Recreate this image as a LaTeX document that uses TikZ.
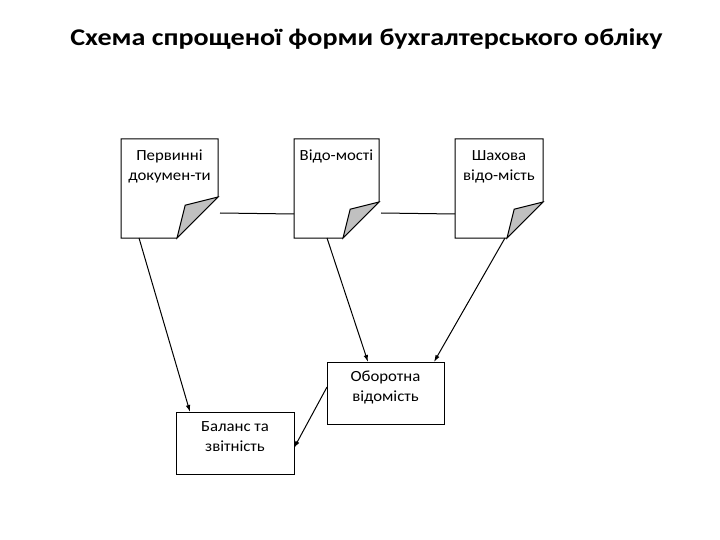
\documentclass[tikz,border=0pt]{standalone}
\usepackage{fontspec}
\setmainfont{Carlito}
\usetikzlibrary{arrows.meta}
\definecolor{ink} {HTML}{000000}
\definecolor{cFlap}{HTML}{C0C0C0}
% page with a curled lower right corner
\newcommand{\docpage}[6]{%
  \node[page,minimum width=#4] (#1) at ({#2},{#3}) {};%
  \draw[edge] (#1.north west) -- (#1.north east) -- ([yshift=#5]#1.south east)
    -- ([xshift=-#5]#1.south east) -- (#1.south west) -- cycle;%
  \draw[edge,fill=cFlap] ([yshift=#5]#1.south east)
    -- ([xshift={-0.8*#5},yshift={0.8*#5}]#1.south east)
    -- ([xshift=-#5]#1.south east) -- cycle;%
  \node[txt,anchor=north] (#1-t) at ([yshift=-11]#1.north) {#6};%
}

\begin{document}
\begin{tikzpicture}[x=1pt,y=1pt,
    edge/.style={draw=ink,line width=1pt},
    page/.style={minimum height=99pt,inner sep=0pt,outer sep=0pt},
    box/.style ={edge,minimum width=117pt,minimum height=62pt,inner sep=0pt,outer sep=0pt},
    txt/.style ={font=\fontsize{15.5}{20}\selectfont,text=ink,align=center,inner sep=0pt,xscale=1.08},
    arr/.style ={edge,-{Latex[length=7pt,width=4.5pt]}},
  ]

% fixed bounding box
\path (0,0) rectangle (720,-540);

% ---- title -----------------------------------------------------------------
\node[anchor=base,font=\fontsize{24}{28}\selectfont\bfseries,text=ink,xscale=1.17] (title)
  at (366.5,-46) {Схема спрощеної форми бухгалтерського обліку};

% ---- documents -------------------------------------------------------------
\docpage{d1}{169.5}{-188.5}{97pt}{41}{Первинні\\докумен-ти}
\docpage{d2}{336.5}{-188.5}{85pt}{36}{Відо-мості}
\docpage{d3}{499}  {-188.5}{88pt}{36}{Шахова\\відо-мість}

% ---- statements ------------------------------------------------------------
\node[box] (obr) at (385.5,-393) {};
\node[txt,anchor=north] (obr-t) at ([yshift=-9]obr.north) {Оборотна\\відомість};
\node[box,minimum width=118pt] (bal) at (235,-443) {};
\node[txt,anchor=north] (bal-t) at ([yshift=-9]bal.north) {Баланс та\\звітність};

% ---- links -----------------------------------------------------------------
\draw[edge] ([xshift=2,yshift=-24.5]d1.east) -- ([yshift=-25.5]d2.west);
\draw[edge] ([xshift=2,yshift=-24.5]d2.east) -- ([yshift=-25.5]d3.west);

\draw[arr] ([xshift=18]d1.south west) -- ([xshift=14]bal.north west);
\draw[arr] ([xshift=33]d2.south west) -- ([xshift=41]obr.north west);
\draw[arr] ([xshift=50]d3.south west) -- ([xshift=-10]obr.north east);
\draw[arr] ([yshift=6]obr.west) -- ([yshift=-5]bal.east);

\end{tikzpicture}
\end{document}
